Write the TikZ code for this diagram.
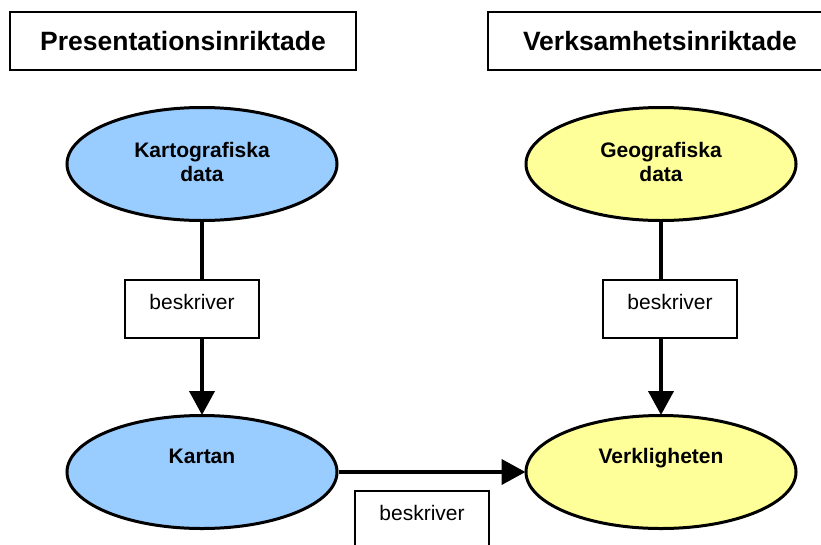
\documentclass[tikz,border=0pt]{standalone}
\usepackage{fontspec}
\setmainfont{Liberation Sans}
\usetikzlibrary{shapes.geometric,arrows.meta}
\definecolor{ovalblue}{HTML}{99CCFF}
\definecolor{ovalyellow}{HTML}{FFFF99}
\tikzset{
  headbox/.style={draw=black, line width=1.8pt, minimum height=58pt, inner sep=0pt,
    font=\fontsize{26.5}{31}\selectfont\bfseries},
  oval/.style={ellipse, draw=black, line width=3pt, minimum width=270pt, minimum height=113pt,
    inner sep=0pt, align=center, font=\fontsize{21}{24}\selectfont\bfseries},
  ovaltext/.style={anchor=base, inner sep=0pt, align=center, font=\fontsize{21}{24}\selectfont\bfseries},
  lblbox/.style={draw=black, fill=white, line width=1.3pt, minimum width=134pt, minimum height=58pt,
    inner sep=0pt, text height=15pt, text depth=14pt, font=\fontsize{21}{24}\selectfont},
  conn/.style={line width=4pt, -{Triangle[length=24pt,width=25pt]}, shorten >=-1pt},
}
\begin{document}
\begin{tikzpicture}[x=1pt,y=-1pt]
\clip (0,0) rectangle (821,544);
\fill[white] (0,0) rectangle (821,544);
% headers
\node[headbox, minimum width=346pt] (hleft) at (183,41) {Presentationsinriktade};
\node[headbox, minimum width=344pt] (hright) at (660,41) {Verksamhetsinriktade};
% ovals
\node[oval, fill=ovalblue] (kdata) at (202,164) {};
\node[ovaltext] (kdatatext) at (202,181) {Kartografiska\\data};
\node[oval, fill=ovalyellow] (gdata) at (661,164) {};
\node[ovaltext] (gdatatext) at (661,181) {Geografiska\\data};
\node[oval, fill=ovalblue] (kartan) at (202,472) {};
\node[ovaltext] (kartantext) at (202,463) {Kartan};
\node[oval, fill=ovalyellow] (verk) at (661,472) {};
\node[ovaltext] (verktext) at (661,463) {Verkligheten};
% connectors
\draw[conn] (kdata.south) -- (kartan.north);
\draw[conn] (gdata.south) -- (verk.north);
\draw[conn] (kartan.east) -- (verk.west);
% labels
\node[lblbox] (lbl1) at (192,309) {beskriver};
\node[lblbox] (lbl2) at (670,309) {beskriver};
\node[lblbox] (lbl3) at (422,520) {beskriver};
\end{tikzpicture}
\end{document}
